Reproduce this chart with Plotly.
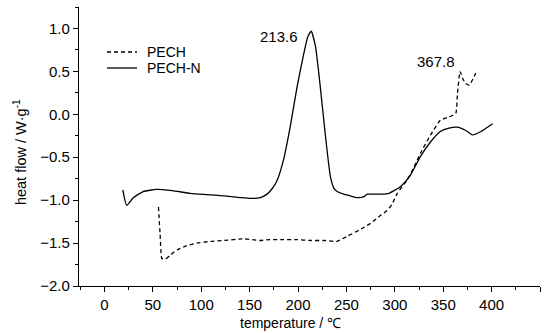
import plotly.graph_objects as go

# PECH-N (solid)
pechn_x = [19, 23, 30, 40, 54, 70, 88.6, 105, 123, 140, 151, 161, 168, 173, 178, 185, 192, 199, 206, 210,
           213.6, 218, 223, 228.4, 233.5, 237, 240.5, 247, 254, 261, 268, 271.5, 278, 286, 294, 306, 316,
           326.6, 337, 347, 356, 364.7, 370, 375, 380, 389, 401]
pechn_y = [-0.88, -1.06, -0.97, -0.90, -0.875, -0.89, -0.92, -0.935, -0.95, -0.97, -0.98, -0.97, -0.93, -0.87,
           -0.78, -0.53, -0.14, 0.32, 0.71, 0.90, 0.97, 0.79, 0.32, -0.26, -0.73, -0.86, -0.90, -0.93, -0.95,
           -0.97, -0.96, -0.93, -0.93, -0.93, -0.92, -0.84, -0.71, -0.49, -0.32, -0.20, -0.16, -0.15, -0.17,
           -0.20, -0.24, -0.20, -0.11]

# PECH (dashed)
pech_x = [55.8, 57.5, 59.3, 62.7, 68, 75, 85, 95.5, 110, 123, 144, 160, 171, 185, 199, 213, 226.6, 237,
          240.5, 251, 263, 275, 285, 292, 297, 302.6, 313, 320, 326.6, 337, 347, 356, 363, 364.7, 367.4,
          370, 373, 377, 383.6]
pech_y = [-1.08, -1.40, -1.68, -1.69, -1.64, -1.58, -1.53, -1.50, -1.48, -1.47, -1.45, -1.47, -1.46, -1.46,
          -1.46, -1.47, -1.47, -1.48, -1.48, -1.42, -1.35, -1.27, -1.18, -1.12, -1.05, -0.92, -0.76, -0.61,
          -0.45, -0.24, -0.07, -0.03, 0.01, 0.24, 0.50, 0.42, 0.36, 0.34, 0.48]

series_names = ["PECH", "PECH-N"]

peak_labels = ["213.6", "367.8"]
peak_label_x = [180.7, 343]
peak_label_y = [0.91, 0.61]

FONT = "Liberation Sans, Arial, sans-serif"
W, H = 551, 333
L, R, T, B = 79, 11, 7, 47

fig = go.Figure()
fig.add_trace(go.Scatter(x=pech_x, y=pech_y, mode="lines", name=series_names[0], showlegend=False,
                         line=dict(color="black", width=1.3, dash="4px,3px", shape="spline", smoothing=0.4)))
fig.add_trace(go.Scatter(x=pechn_x, y=pechn_y, mode="lines", name=series_names[1], showlegend=False,
                         line=dict(color="black", width=1.3, shape="spline", smoothing=0.5)))

for t, xx, yy in zip(peak_labels, peak_label_x, peak_label_y):
    fig.add_annotation(x=xx, y=yy, text=t, showarrow=False, xanchor="center", yanchor="middle",
                       font=dict(family=FONT, size=15, color="black"))

# legend (drawn manually for tight row spacing)
pw, ph = W - L - R, H - T - B
def px_to_paper(px, py):
    return (px - L) / pw, (H - B - py) / ph

legend_rows_y = [52, 68]
legend_dash = ["4px,3px", "solid"]
for name, ry, dsh in zip(series_names, legend_rows_y, legend_dash):
    x0, yy = px_to_paper(107, ry)
    x1, _ = px_to_paper(137, ry)
    fig.add_shape(type="line", xref="paper", yref="paper", x0=x0, x1=x1, y0=yy, y1=yy,
                  line=dict(color="black", width=1.3, dash=dsh))
    tx, _ = px_to_paper(145, ry)
    fig.add_annotation(x=tx, y=yy, xref="paper", yref="paper", text=name, showarrow=False,
                       xanchor="left", yanchor="middle", font=dict(family=FONT, size=14, color="black"))

fig.add_annotation(x=0.458, y=-0.132, xref="paper", yref="paper", text="temperature / ℃",
                   showarrow=False, xanchor="center", yanchor="middle",
                   font=dict(family=FONT, size=14, color="black"))
fig.add_annotation(x=-0.128, y=0.48, xref="paper", yref="paper", text="heat flow / W·g<sup>-1</sup>",
                   showarrow=False, xanchor="center", yanchor="middle", textangle=-90,
                   font=dict(family=FONT, size=14.5, color="black"))

axis_common = dict(showline=True, linecolor="black", linewidth=1.2, showgrid=False, zeroline=False,
                   ticks="outside", ticklen=5, tickwidth=1.2, tickcolor="black",
                   tickfont=dict(family=FONT, size=15, color="black"))

fig.update_xaxes(range=[-26.3, 450], tickmode="array", tickvals=list(range(0, 451, 50)),
                 minor=dict(tickvals=list(range(-25, 451, 50)), ticks="outside", ticklen=3,
                            tickcolor="black", tickwidth=1.2),
                 **axis_common)
fig.update_yaxes(range=[-2.0, 1.25], tickmode="array", tickvals=[-2.0, -1.5, -1.0, -0.5, 0.0, 0.5, 1.0],
                 tickformat=".1f",
                 minor=dict(tickvals=[-1.75, -1.25, -0.75, -0.25, 0.25, 0.75, 1.25], ticks="outside",
                            ticklen=3, tickcolor="black", tickwidth=1.2),
                 **axis_common)

fig.update_layout(width=W, height=H, margin=dict(l=L, r=R, t=T, b=B),
                  plot_bgcolor="white", paper_bgcolor="white", showlegend=False)

fig.write_html("out.html", config={"displayModeBar": False},
               post_script="document.body.style.margin='0px';")
